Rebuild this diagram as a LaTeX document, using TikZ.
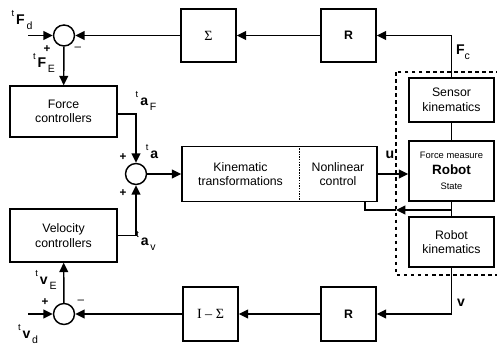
\documentclass[tikz,border=0pt]{standalone}
\usepackage{fontspec}
\setmainfont{Liberation Sans}
\newfontfamily\serif{Liberation Serif}
\usetikzlibrary{arrows.meta}
\newcommand{\tlab}[2]{\raisebox{1.3ex}{\fontsize{8}{8}\selectfont t}\,{\fontsize{12}{12}\selectfont\bfseries #1}\raisebox{-0.8ex}{\fontsize{9}{9}\selectfont\,#2}}

\begin{document}
\begin{tikzpicture}[x=0.03cm, y=-0.03cm, line width=1.25pt, >={Triangle[length=8pt, width=7.5pt]},
    box/.style={draw, rectangle, align=center, inner sep=0pt, font=\fontsize{10.5}{12.5}\selectfont},
    sum/.style={draw, circle, minimum size=0.63cm, inner sep=0pt},
    lab/.style={inner sep=0pt}]
    \useasboundingbox (0,0) rectangle (497,345);
    \node[box, minimum width=3.21cm, minimum height=1.53cm] (fc) at (63.5,111.5) {Force\\controllers};
    \node[box, minimum width=3.21cm, minimum height=1.59cm] (vc) at (63.5,235.5) {Velocity\\controllers};
    \node[box, minimum width=1.65cm, minimum height=1.59cm] (sig) at (208.5,35.5) {\serif\fontsize{12}{12}\selectfont Σ};
    \node[box, minimum width=1.65cm, minimum height=1.59cm] (rt) at (348.5,35.5) {\bfseries R};
    \node[box, minimum width=1.65cm, minimum height=1.62cm] (ims) at (210.5,314) {\serif\fontsize{12}{12}\selectfont I – Σ};
    \node[box, minimum width=1.65cm, minimum height=1.62cm] (rb) at (348.5,314) {\bfseries R};
    \node[box, minimum width=5.85cm, minimum height=1.65cm] (ctrl) at (279.5,174) {};
    \node[box, draw=none, minimum width=3.51cm] (kin) at (240.5,174) {Kinematic\\transformations};
    \node[box, draw=none] (nl) at (338,174) {Nonlinear\\control};
    \path[draw, densely dotted] (ctrl.north -| kin.east) -- (ctrl.south -| kin.east);
    \node[box, minimum width=2.55cm, minimum height=1.32cm] (sk) at (451.5,100) {Sensor\\kinematics};
    \node[box, minimum width=2.55cm, minimum height=1.8cm] (rob) at (451.5,171) {{\fontsize{8}{9}\selectfont Force measure}\\[1pt]{\fontsize{11.5}{13}\selectfont\bfseries Robot}\\[1pt]{\fontsize{8}{9}\selectfont State}};
    \node[box, minimum width=2.55cm, minimum height=1.5cm] (rk) at (451.5,242) {Robot\\kinematics};
    \draw[dashed] (396,72) rectangle (505,275);
    \node[sum] (s1) at (64,35.5) {};
    \node[sum] (s2) at (136,174) {};
    \node[sum] (s3) at (64,314) {};
    \coordinate (fd) at (28,35.5);
    \coordinate (vd) at (28,314);
    \coordinate (st) at (451.5,210);
    \coordinate (sx) at (396,210);
    % force loop
    \path[draw, ->] (fd) -- (s1);
    \path[draw, ->] (sig) -- (s1);
    \path[draw, ->] (rt) -- (sig);
    \path[draw, ->] (sk) |- (rt);
    \path[draw, ->] (s1) -- (fc);
    \path[draw, ->] ([yshift=-2pt]fc.east) -| (s2);
    \path[draw, ->] (vc.east) -| (s2);
    \path[draw, ->] (s2) -- (ctrl);
    \path[draw, ->] (ctrl) -- (ctrl -| rob.west);
    \path[draw] (sk) -- (rob);
    \path[draw] (rob) -- (rk);
    \path[draw, ->] (st) -- (sx);
    \path[draw] (sx) -| ([xshift=-11pt]ctrl.south east);
    % velocity loop
    \path[draw, ->] (rk) |- (rb);
    \path[draw, ->] (rb) -- (ims);
    \path[draw, ->] (ims) -- (s3);
    \path[draw, ->] (vd) -- (s3);
    \path[draw, ->] (s3) -- (vc);
    % labels
    \node[lab] at (22,20) {\tlab{F}{d}};
    \node[lab] at (44,63) {\tlab{F}{E}};
    \node[lab] at (146,101) {\tlab{a}{F}};
    \node[lab] at (153,154) {\tlab{a}{}};
    \node[lab] at (146,241) {\tlab{a}{v}};
    \node[lab] at (46,280) {\tlab{v}{E}};
    \node[lab] at (28,334) {\tlab{v}{d}};
    \node[lab] at (463,52) {{\fontsize{12}{12}\selectfont\bfseries F}\raisebox{-0.8ex}{\fontsize{9}{9}\selectfont c}};
    \node[lab] at (390,155) {\fontsize{12}{12}\selectfont\bfseries u};
    \node[lab] at (461,303) {\fontsize{12}{12}\selectfont\bfseries v};
    \node[lab] at (47,49) {\bfseries +};
    \node[lab] at (78,49) {--};
    \node[lab] at (123,157) {\bfseries +};
    \node[lab] at (123,193) {\bfseries +};
    \node[lab] at (45,302) {\bfseries +};
    \node[lab] at (81,302) {--};
\end{tikzpicture}
\end{document}
